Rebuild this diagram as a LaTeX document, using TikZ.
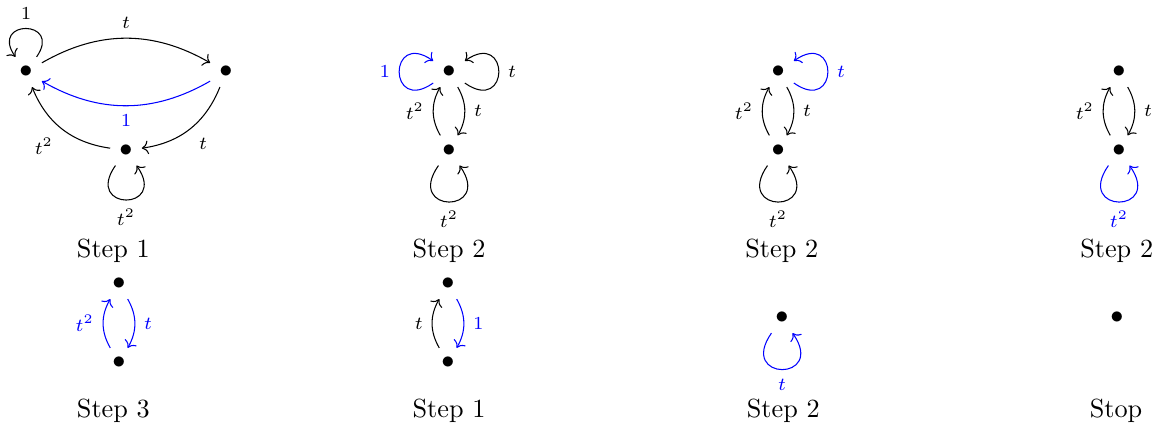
\documentclass[tikz,border=0pt]{standalone}
\usepackage{amsmath}
\usepackage{tikz}
\usetikzlibrary{arrows.meta, positioning}

\begin{document}
\begin{tikzpicture}[
    sommet/.style={inner sep=3.33pt},
    arc/.style={->, bend left, auto, font=\scriptsize},
    boucle/.style={->, loop, looseness=7.2, min distance=5mm, font=\scriptsize},
    boucleH/.style={boucle, out=55, in=125},
    boucleB/.style={boucle, out=235, in=305},
    boucleG/.style={boucle, out=215, in=145, looseness=6.4},
    boucleD/.style={boucle, out=-35, in=35, looseness=6.4},
    bleu/.style={blue},
    etape/.style={anchor=base}
]
\useasboundingbox (0,0) rectangle (15.51,-5.737);

% Etape 1
\node[sommet] (s1a) at (0.349,-0.965) {$\bullet$};
\node[sommet] (s1b) at (3.029,-0.965) {$\bullet$};
\node[sommet] (s1c) at (1.689,-2.017) {$\bullet$};
\draw[arc] (s1a) to node{$t$} (s1b);
\draw[arc, bleu] (s1b) to node{$1$} (s1a);
\draw[arc] (s1b) to node{$t$} (s1c);
\draw[arc] (s1c) to node{$t^2$} (s1a);
\draw[boucleH, looseness=5.6] (s1a) to node[above]{$1$} (s1a);
\draw[boucleB, looseness=6.8] (s1c) to node[below]{$t^2$} (s1c);
\node[etape] (e1) at (1.52,-3.449) {Step 1};

% Etape 2
\node[sommet] (s2a) at (6.019,-0.965) {$\bullet$};
\node[sommet] (s2b) at (6.019,-2.017) {$\bullet$};
\draw[boucleG, bleu] (s2a) to node[left]{$1$} (s2a);
\draw[boucleD] (s2a) to node[right]{$t$} (s2a);
\draw[arc] (s2b) to node{$t^2$} (s2a);
\draw[arc] (s2a) to node{$t$} (s2b);
\draw[boucleB] (s2b) to node[below]{$t^2$} (s2b);
\node[etape] (e2) at (6.019,-3.449) {Step 2};

% Etape 2 (suite)
\node[sommet] (s3a) at (10.43,-0.965) {$\bullet$};
\node[sommet] (s3b) at (10.43,-2.017) {$\bullet$};
\draw[boucleD, bleu] (s3a) to node[right]{$t$} (s3a);
\draw[arc] (s3b) to node{$t^2$} (s3a);
\draw[arc] (s3a) to node{$t$} (s3b);
\draw[boucleB] (s3b) to node[below]{$t^2$} (s3b);
\node[etape] (e3) at (10.48,-3.449) {Step 2};

% Etape 2 (fin)
\node[sommet] (s4a) at (15.0,-0.965) {$\bullet$};
\node[sommet] (s4b) at (15.0,-2.017) {$\bullet$};
\draw[arc] (s4b) to node{$t^2$} (s4a);
\draw[arc] (s4a) to node{$t$} (s4b);
\draw[boucleB, bleu] (s4b) to node[below]{$t^2$} (s4b);
\node[etape] (e4) at (14.97,-3.449) {Step 2};

% Etape 3
\node[sommet] (s5a) at (1.595,-3.807) {$\bullet$};
\node[sommet] (s5b) at (1.595,-4.866) {$\bullet$};
\draw[arc, bleu] (s5b) to node{$t^2$} (s5a);
\draw[arc, bleu] (s5a) to node{$t$} (s5b);
\node[etape] (e5) at (1.52,-5.603) {Step 3};

% Etape 1 (second graphe)
\node[sommet] (s6a) at (6.005,-3.807) {$\bullet$};
\node[sommet] (s6b) at (6.005,-4.866) {$\bullet$};
\draw[arc] (s6b) to node{$t$} (s6a);
\draw[arc, bleu] (s6a) to node{$1$} (s6b);
\node[etape] (e6) at (6.02,-5.603) {Step 1};

% Etape 2 (second graphe)
\node[sommet] (s7a) at (10.483,-4.263) {$\bullet$};
\draw[boucleB, bleu] (s7a) to node[below]{$t$} (s7a);
\node[etape] (e7) at (10.5,-5.603) {Step 2};

% Arret
\node[sommet] (s8a) at (14.973,-4.263) {$\bullet$};
\node[etape] (e8) at (14.96,-5.603) {Stop};

\end{tikzpicture}
\end{document}
